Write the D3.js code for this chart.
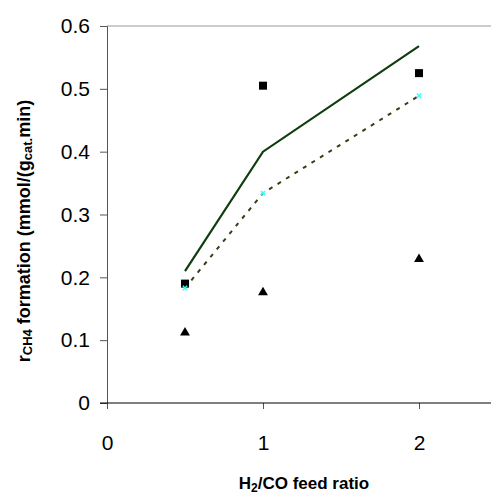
<!DOCTYPE html>
<html lang="en">
  <head>
    <meta charset="utf-8">
    <title>CH4 formation rate</title>
    <style>
      body { margin: 0; background: #fff; }
      svg { display: block; font-family: "Liberation Sans", Arial, sans-serif; }
    </style>
    <script src="https://d3js.org/d3.v7.min.js"></script>
  </head>
  <body>
    <script>
      // data
      const ratios = [0.5, 1, 2];
      const squareRates = [0.19, 0.505, 0.525];
      const triangleRates = [0.112, 0.176, 0.229];
      const solidLine = [0.21, 0.40, 0.568];
      const dottedLine = [0.183, 0.334, 0.489];
      const yTicks = [0, 0.1, 0.2, 0.3, 0.4, 0.5, 0.6];
      const xTicks = [0, 1, 2];

      const width = 491, height = 495;

      const x = d3.scaleLinear().domain([0, 2.5]).range([107, 497]);
      const y = d3.scaleLinear().domain([0, 0.6]).range([403, 26]);

      const svg = d3.select('body').append('svg')
        .attr('width', width)
        .attr('height', height);

      // top border line at 0.6
      svg.append('line')
        .attr('x1', x(0)).attr('x2', width)
        .attr('y1', y(0.6)).attr('y2', y(0.6))
        .attr('stroke', '#999').attr('stroke-width', 1);

      const yAxis = svg.append('g')
        .attr('transform', `translate(${x(0)},0)`)
        .call(d3.axisLeft(y).tickValues(yTicks).tickSize(7).tickPadding(10)
          .tickFormat(d => d === 0 ? '0' : d3.format('.1f')(d)));
      yAxis.select('.domain').attr('stroke', '#555');
      yAxis.selectAll('.tick line').attr('stroke', '#555');
      yAxis.selectAll('text').attr('font-size', 21).attr('fill', '#000')
        .attr('font-family', '"Liberation Sans", Arial, sans-serif');

      const xAxis = svg.append('g')
        .attr('transform', `translate(0,${y(0)})`)
        .call(d3.axisBottom(x).tickValues(xTicks).tickSize(6).tickPadding(26)
          .tickFormat(d3.format('d')));
      xAxis.select('.domain').remove();
      xAxis.append('line')
        .attr('x1', x(0) - 7).attr('x2', width)
        .attr('stroke', '#000');
      xAxis.selectAll('.tick line').attr('stroke', '#555');
      xAxis.selectAll('text').attr('font-size', 21).attr('fill', '#000')
        .attr('font-family', '"Liberation Sans", Arial, sans-serif');

      // lines
      const line = d3.line()
        .x((d, i) => x(ratios[i]))
        .y(d => y(d));

      svg.append('path')
        .datum(solidLine)
        .attr('d', line)
        .attr('fill', 'none')
        .attr('stroke', '#0f3d0f')
        .attr('stroke-width', 2.2);

      svg.append('path')
        .datum(dottedLine)
        .attr('d', line)
        .attr('fill', 'none')
        .attr('stroke', '#3b3b14')
        .attr('stroke-width', 2)
        .attr('stroke-dasharray', '4,6');

      // square markers
      svg.selectAll('.sq')
        .data(squareRates)
        .join('rect')
        .attr('class', 'sq')
        .attr('x', (d, i) => x(ratios[i]) - 4)
        .attr('y', d => y(d) - 4)
        .attr('width', 8).attr('height', 8)
        .attr('fill', '#000');

      // triangle markers
      const tri = d3.symbol().type(d3.symbolTriangle).size(42);
      svg.selectAll('.tri')
        .data(triangleRates)
        .join('path')
        .attr('class', 'tri')
        .attr('transform', (d, i) => `translate(${x(ratios[i])},${y(d)})`)
        .attr('d', tri)
        .attr('fill', '#000');

      // small cyan markers on the dotted line
      const star = d3.symbol().type(d3.symbolX).size(14);
      svg.selectAll('.cy')
        .data(dottedLine)
        .join('path')
        .attr('class', 'cy')
        .attr('transform', (d, i) => `translate(${x(ratios[i])},${y(d)})`)
        .attr('d', star)
        .attr('stroke', '#33ffff')
        .attr('stroke-width', 1.5)
        .attr('fill', 'none');

      // axis titles
      const xTitle = svg.append('text')
        .attr('x', 304)
        .attr('y', 489)
        .attr('text-anchor', 'middle')
        .attr('font-size', 17)
        .attr('font-weight', 'bold');
      xTitle.append('tspan').text('H');
      xTitle.append('tspan').text('2').attr('font-size', 12).attr('dy', 3);
      xTitle.append('tspan').text('/CO feed ratio').attr('dy', -3);

      const yTitle = svg.append('text')
        .attr('transform', 'translate(30,231) rotate(-90)')
        .attr('text-anchor', 'middle')
        .attr('font-size', 18)
        .attr('font-weight', 'bold');
      yTitle.append('tspan').text('r');
      yTitle.append('tspan').text('CH4').attr('font-size', 13).attr('dy', 2);
      yTitle.append('tspan').text(' formation (mmol/(g').attr('dy', -2);
      yTitle.append('tspan').text('cat.').attr('font-size', 13).attr('dy', 2);
      yTitle.append('tspan').text('min)').attr('dy', -2);
    </script>
  </body>
</html>
